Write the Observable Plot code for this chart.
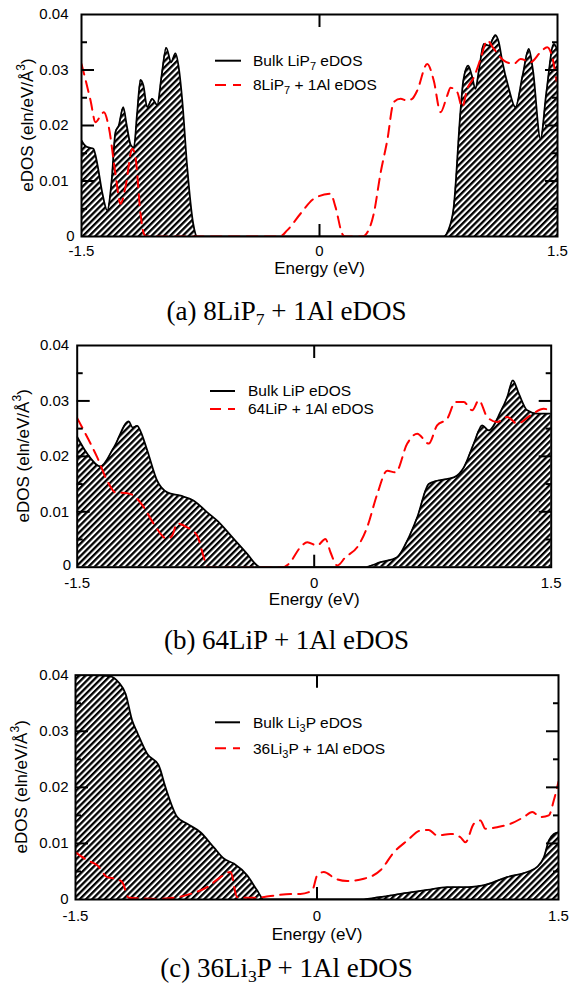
<!DOCTYPE html>
<html><head><meta charset="utf-8">
<script src="https://cdn.jsdelivr.net/npm/d3@7"></script>
<script src="https://cdn.jsdelivr.net/npm/@observablehq/plot@0.6"></script>
<style>
html,body{margin:0;padding:0;background:#fff}
body{width:573px;height:993px;position:relative;overflow:hidden}
.panel{position:absolute;left:0}
.cap{position:absolute;left:0;width:573px;text-align:center;font-family:"Liberation Serif","Times New Roman",serif;font-size:27px;line-height:1;color:#000}
.cap sub{font-size:65%;vertical-align:baseline;position:relative;top:0.28em}
</style></head><body>
<script>
// ---------- tick labels ----------
const xTickValues = [-1.5, 0, 1.5];
const xTickLabels = ["-1.5", "0", "1.5"];
const yTickValues = [0.01, 0.02, 0.03, 0.04];
const yTickLabels = ["0.01", "0.02", "0.03", "0.04"];
const yMinorTicks = [0.005, 0.015, 0.025, 0.035];
const xTitle = "Energy (eV)";
const yTitle = "eDOS (eln/eV/Å";

// ---------- panel (a): 8LiP7 ----------
const aBulkE = [-1.5,-1.475,-1.45,-1.425,-1.4,-1.37,-1.338,-1.31,-1.286,-1.265,-1.237,-1.215,-1.19,-1.17,-1.15,-1.128,-1.11,-1.086,-1.054,-1.023,-0.995,-0.966,-0.935,-0.908,-0.885,-0.865,-0.834,-0.796,-0.771,-0.5,0,0.5,0.783,0.81,0.846,0.889,0.906,0.937,0.96,0.983,1.005,1.036,1.067,1.109,1.13,1.151,1.19,1.235,1.28,1.319,1.345,1.393,1.43,1.477,1.5];
const aBulkV = [0.0173,0.0163,0.016,0.0158,0.013,0.008,0.0047,0.010,0.0188,0.0200,0.0233,0.020,0.0165,0.016,0.022,0.0282,0.0272,0.0233,0.0248,0.0237,0.029,0.034,0.0314,0.033,0.030,0.0245,0.0125,0.0023,0,0,0,0,0,0.001,0.0053,0.0227,0.028,0.0308,0.029,0.0266,0.030,0.0347,0.0344,0.0363,0.035,0.0317,0.027,0.0233,0.029,0.0338,0.030,0.0176,0.026,0.0347,0.0335];
const aDopE = [-1.5,-1.443,-1.412,-1.385,-1.359,-1.328,-1.286,-1.254,-1.223,-1.18,-1.16,-1.128,-1.107,-1.09,-0.25,-0.204,-0.12,-0.036,0.069,0.101,0.143,0.16,0.27,0.29,0.342,0.384,0.427,0.468,0.511,0.55,0.584,0.616,0.679,0.72,0.763,0.805,0.826,0.868,0.899,0.931,0.973,1.015,1.057,1.099,1.162,1.225,1.267,1.33,1.393,1.435,1.467,1.494];
const aDopV = [0.0311,0.0245,0.0206,0.0215,0.0224,0.0197,0.0113,0.0059,0.0089,0.0158,0.0143,0.0041,0.0005,0,0,0.0011,0.0041,0.0068,0.0077,0.0053,0.0005,0,0,0.0003,0.0041,0.0113,0.0173,0.0242,0.0248,0.0245,0.0248,0.0263,0.0311,0.0281,0.0224,0.0254,0.0268,0.026,0.0233,0.0266,0.0287,0.032,0.0353,0.0338,0.0317,0.0311,0.032,0.0314,0.0332,0.0341,0.0323,0.0281];
const aLegend = ["Bulk LiP_7 eDOS", "8LiP_7 + 1Al eDOS"];

// ---------- panel (b): 64LiP ----------
const bBulkE = [-1.5,-1.437,-1.353,-1.268,-1.173,-1.15,-1.12,-1.099,-1.057,-0.994,-0.93,-0.846,-0.762,-0.677,-0.614,-0.509,-0.424,-0.361,-0.34,0,0.314,0.42,0.525,0.589,0.652,0.725,0.778,0.884,0.947,1.01,1.063,1.105,1.179,1.222,1.257,1.295,1.348,1.411,1.5];
const bBulkV = [0.0235,0.0205,0.0182,0.0216,0.0263,0.0252,0.0255,0.0245,0.0211,0.0156,0.0135,0.0129,0.012,0.0099,0.0084,0.0051,0.0024,0.0003,0,0,0,0.0009,0.0018,0.0048,0.009,0.015,0.0156,0.0162,0.018,0.0223,0.0256,0.0247,0.028,0.0307,0.0337,0.0313,0.0283,0.0277,0.0277];
const bDopE = [-1.5,-1.437,-1.373,-1.31,-1.258,-1.194,-1.142,-1.078,-1.015,-0.93,-0.899,-0.867,-0.804,-0.741,-0.699,-0.677,-0.2,-0.161,-0.087,-0.044,0.019,0.071,0.103,0.146,0.198,0.272,0.335,0.399,0.462,0.515,0.589,0.652,0.725,0.778,0.842,0.894,0.947,1.0,1.042,1.095,1.158,1.222,1.285,1.369,1.453,1.5];
const bDopV = [0.0269,0.0235,0.0198,0.0156,0.0135,0.0134,0.0129,0.0108,0.0078,0.0051,0.0057,0.0079,0.0072,0.0057,0.0018,0,0,0.0006,0.0036,0.0045,0.0039,0.0051,0.0027,0.0003,0.0018,0.0036,0.0072,0.0132,0.0174,0.0171,0.0223,0.0241,0.0223,0.0256,0.0268,0.0298,0.0298,0.0283,0.0301,0.0271,0.0262,0.0271,0.0259,0.0274,0.0286,0.028];
const bLegend = ["Bulk LiP eDOS", "64LiP + 1Al eDOS"];

// ---------- panel (c): 36Li3P ----------
const cBulkE = [-1.5,-1.38,-1.283,-1.231,-1.189,-1.148,-1.117,-1.055,-0.983,-0.941,-0.868,-0.806,-0.724,-0.641,-0.579,-0.517,-0.434,-0.371,-0.33,0,0.27,0.385,0.56,0.684,0.809,0.933,1.057,1.181,1.306,1.368,1.409,1.44,1.471,1.5];
const cBulkV = [0.04,0.04,0.0398,0.0387,0.0367,0.0319,0.0298,0.026,0.0239,0.02,0.0147,0.0135,0.012,0.0093,0.0073,0.0064,0.0043,0.0016,0,0,0,0.0004,0.0012,0.0017,0.0022,0.0022,0.0027,0.004,0.0049,0.0058,0.0075,0.0105,0.0117,0.012];
const cDopE = [-1.5,-1.427,-1.365,-1.303,-1.252,-1.21,-1.169,-1.096,-0.993,-0.889,-0.786,-0.682,-0.599,-0.537,-0.496,-0.393,-0.268,-0.165,-0.103,-0.03,0.001,0.042,0.115,0.188,0.291,0.394,0.477,0.56,0.643,0.694,0.747,0.829,0.891,0.922,0.974,1.015,1.046,1.119,1.202,1.284,1.337,1.388,1.44,1.471,1.5];
const cDopV = [0.0084,0.007,0.0061,0.004,0.0037,0.0031,0.0003,0.0002,0.0001,0.0003,0.001,0.0022,0.004,0.0049,0.0004,0.0003,0.0007,0.001,0.001,0.0016,0.0043,0.0049,0.0037,0.0033,0.0037,0.0052,0.0084,0.0105,0.0123,0.0124,0.0114,0.0117,0.0111,0.0102,0.0135,0.0141,0.0126,0.0129,0.0135,0.0147,0.0156,0.0147,0.015,0.0177,0.021];
const cLegend = ["Bulk Li_3P eDOS", "36Li_3P + 1Al eDOS"];

const captions = ["(a) 8LiP<sub>7</sub> + 1Al eDOS", "(b) 64LiP + 1Al eDOS", "(c) 36Li<sub>3</sub>P + 1Al eDOS"];

// ---------- layout ----------
const panels = [
  {id:"hA", top:0, mt:14, mb:54, ml:81, mr:16, ypad:13, zpad:7, zdy:0, xpad:9, xlab:32,
   bulkE:aBulkE, bulkV:aBulkV, dopE:aDopE, dopV:aDopV, legend:aLegend,
   lx1:215, lx2:241, ly:[60.7,85], tx:253, capTop:298},
  {id:"hB", top:330, mt:15, mb:53.3, ml:76.7, mr:22.3, ypad:8, zpad:6, zdy:-2, xpad:10, xlab:32,
   bulkE:bBulkE, bulkV:bBulkV, dopE:bDopE, dopV:bDopV, legend:bLegend,
   lx1:210, lx2:235, ly:[61,79], tx:248, capTop:627},
  {id:"hC", top:660, mt:14.7, mb:51, ml:75, mr:15, ypad:7, zpad:7, zdy:0, xpad:11, xlab:35,
   bulkE:cBulkE, bulkV:cBulkV, dopE:cDopE, dopV:cDopV, legend:cLegend,
   lx1:215, lx2:240, ly:[62.3,88.3], tx:253, capTop:955}
];
const H = 290;

function addRich(sel, str, subSize, shift) {
  const parts = str.split(/_(\d)/);
  let pending = 0;
  parts.forEach((s, i) => {
    if (!s) return;
    if (i % 2 === 1) {
      sel.append("tspan").attr("dy", shift + pending).style("font-size", subSize + "px").text(s);
      pending = -shift;
    } else {
      const ts = sel.append("tspan").text(s);
      if (pending) ts.attr("dy", pending);
      pending = 0;
    }
  });
}

panels.forEach((p, k) => {
  const bulk = p.bulkE.map((e, i) => ({e, v: p.bulkV[i]}));
  const dop = p.dopE.map((e, i) => ({e, v: p.dopV[i]}));
  const tickOpts = {fill: "none", label: null, strokeWidth: 2, stroke: "black"};
  const chart = Plot.plot({
    width: 573, height: H,
    marginTop: p.mt, marginBottom: p.mb, marginLeft: p.ml, marginRight: p.mr,
    style: {fontFamily: "'Liberation Sans', Arial, Helvetica, sans-serif", fontSize: "15px", background: "white", overflow: "visible", color: "black"},
    x: {domain: [-1.5, 1.5], axis: null},
    y: {domain: [0, 0.04], axis: null},
    marks: [
      Plot.areaY(bulk, {x: "e", y: "v", fill: `url(#${p.id})`, curve: "monotone-x", clip: true}),
      Plot.lineY(bulk, {x: "e", y: "v", stroke: "black", strokeWidth: 1.8, curve: "monotone-x", clip: true}),
      Plot.lineY(dop, {x: "e", y: "v", stroke: "#ff0000", strokeWidth: 2, strokeDasharray: "11,7", curve: "monotone-x", clip: true}),
      Plot.frame({stroke: "black", strokeWidth: 2}),
      Plot.axisY(yTickValues.slice(0, 3), {...tickOpts, anchor: "left", tickSize: 13, dx: 13}),
      Plot.axisY(yMinorTicks, {...tickOpts, anchor: "left", tickSize: 6, dx: 6}),
      Plot.axisY(yTickValues.slice(0, 3), {...tickOpts, anchor: "right", tickSize: 13, dx: -13}),
      Plot.axisY(yMinorTicks, {...tickOpts, anchor: "right", tickSize: 6, dx: -6}),
      Plot.axisX([0], {...tickOpts, anchor: "bottom", tickSize: 12, dy: -12}),
      Plot.axisX([0], {...tickOpts, anchor: "top", tickSize: 12, dy: 12}),
      Plot.axisY(yTickValues, {anchor: "left", tickSize: 0, tickPadding: p.ypad, label: null, fill: "black", tickFormat: d => yTickLabels[yTickValues.indexOf(d)], fontSize: 15}),
      Plot.axisY([0], {anchor: "left", tickSize: 0, tickPadding: p.zpad, dy: p.zdy, label: null, fill: "black", tickFormat: () => "0", fontSize: 15}),
      Plot.axisX(xTickValues, {anchor: "bottom", tickSize: 0, tickPadding: p.xpad, label: null, fill: "black", tickFormat: d => xTickLabels[xTickValues.indexOf(d)], fontSize: 15}),
      Plot.text([xTitle], {frameAnchor: "bottom", dy: p.xlab, text: d => d, fontSize: 17, lineAnchor: "middle", fill: "black"})
    ]
  });
  const svg = d3.select(chart);
  svg.insert("defs", ":first-child").html(
    `<pattern id="${p.id}" patternUnits="userSpaceOnUse" width="4.4" height="8" patternTransform="rotate(45)"><rect x="0" y="0" width="2.3" height="8" fill="black"/></pattern>`);
  // y axis title
  const yt = svg.append("text")
    .attr("transform", `translate(${p.ml - 54},${(p.mt + H - p.mb) / 2}) rotate(-90)`)
    .attr("text-anchor", "middle").attr("dy", "0.35em")
    .style("font-size", "17px").attr("fill", "black");
  yt.append("tspan").text(yTitle);
  yt.append("tspan").attr("dy", -8).style("font-size", "12px").text("3");
  yt.append("tspan").attr("dy", 8).text(")");
  // legend
  const lg = svg.append("g").attr("text-anchor", "start");
  p.legend.forEach((lab, i) => {
    lg.append("line").attr("x1", p.lx1).attr("x2", p.lx2).attr("y1", p.ly[i]).attr("y2", p.ly[i])
      .attr("stroke", i === 0 ? "black" : "#ff0000").attr("stroke-width", 2)
      .attr("stroke-dasharray", i === 0 ? null : "11,7");
    const t = lg.append("text").attr("x", p.tx).attr("y", p.ly[i]).attr("dy", "0.35em")
      .attr("text-anchor", "start")
      .style("font-size", "15.5px").attr("fill", "black");
    addRich(t, lab, 11, 4);
  });
  const wrap = document.createElement("div");
  wrap.className = "panel";
  wrap.style.top = p.top + "px";
  wrap.appendChild(chart);
  document.body.appendChild(wrap);
  const cap = document.createElement("div");
  cap.className = "cap";
  cap.style.top = p.capTop + "px";
  cap.innerHTML = captions[k];
  document.body.appendChild(cap);
});
</script>
</body></html>
